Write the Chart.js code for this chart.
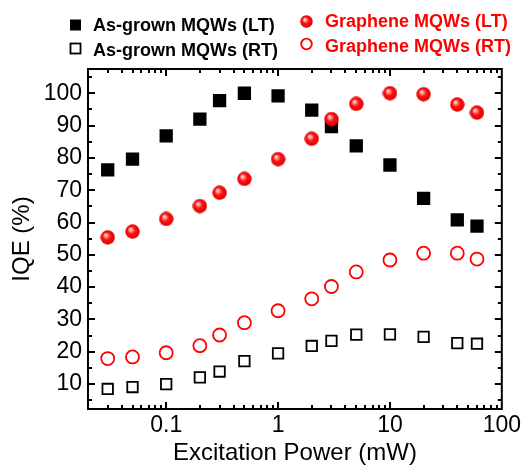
<!DOCTYPE html>
<html>
<head>
<meta charset="utf-8">
<script src="https://cdn.jsdelivr.net/npm/chart.js@4.4.0/dist/chart.umd.min.js"></script>
<style>
html,body{margin:0;padding:0;background:#fff;}
#contenedor{width:524px;height:468px;position:relative;}
</style>
</head>
<body>
<div id="contenedor"><canvas id="graficaIQE"></canvas></div>
<script>
// datos: potencia de excitacion (mW) e IQE (%) de cada muestra
const potencia = [0.03, 0.05, 0.1, 0.2, 0.3, 0.5, 1, 2, 3, 5, 10, 20, 40, 60];
const asGrownLT = [76.3, 79.6, 86.8, 92.0, 97.7, 100, 99.2, 94.8, 89.7, 83.7, 77.8, 67.5, 60.8, 58.9];
const asGrownRT = [8.5, 9.1, 10.0, 12.1, 13.9, 17.1, 19.5, 21.8, 23.4, 25.3, 25.4, 24.6, 22.7, 22.5];
const grafenoLT = [55.4, 57.2, 61.1, 65.1, 69.2, 73.5, 79.6, 85.9, 92.0, 96.7, 100, 99.7, 96.5, 94.0];
const grafenoRT = [17.9, 18.4, 19.7, 21.9, 25.2, 29.0, 32.7, 36.4, 40.2, 44.7, 48.4, 50.5, 50.5, 48.7];
const ticksX = [0.1, 1, 10, 100];
const ticksY = [10, 20, 30, 40, 50, 60, 70, 80, 90, 100];
const nombres = ['As-grown MQWs (LT)', 'As-grown MQWs (RT)', 'Graphene MQWs (LT)', 'Graphene MQWs (RT)'];

const ROJO = '#ff0000';
const fuente = '"Liberation Sans", Arial, sans-serif';

// esfera roja con brillo, se usa como pointStyle
function crearEsfera(d){
  const c = document.createElement('canvas');
  c.width = d; c.height = d;
  const g = c.getContext('2d');
  const r = d / 2;
  const grad = g.createRadialGradient(r * 0.7, r * 0.65, 0, r, r, r);
  grad.addColorStop(0, '#ffffff');
  grad.addColorStop(0.22, '#ff9a9a');
  grad.addColorStop(0.5, '#ff1010');
  grad.addColorStop(1, '#e00000');
  g.fillStyle = grad;
  g.beginPath();
  g.arc(r, r, r - 0.3, 0, Math.PI * 2);
  g.fill();
  return c;
}
const esfera = crearEsfera(15);
const esferaChica = crearEsfera(13);

const puntos = arr => potencia.map((p, i) => ({x: p, y: arr[i]}));

// marco y ticks hacia adentro en los cuatro lados
const marco = {
  id: 'marco',
  afterDraw(chart){
    const {ctx, chartArea: a, scales: {x, y}} = chart;
    ctx.save();
    ctx.strokeStyle = '#000';
    ctx.lineWidth = 2;
    ctx.strokeRect(a.left, a.top, a.right - a.left, a.bottom - a.top);
    ctx.beginPath();
    for (let e = -2; e < 2; e++){
      for (let m = 1; m < 10; m++){
        const v = m * Math.pow(10, e);
        if (v < x.min - 1e-9 || v > x.max + 1e-9) continue;
        const px = Math.round(x.getPixelForValue(v));
        const L = m === 1 ? 7 : 4;
        ctx.moveTo(px, a.bottom); ctx.lineTo(px, a.bottom - L);
        ctx.moveTo(px, a.top); ctx.lineTo(px, a.top + L);
      }
    }
    for (let v = 5; v <= y.max; v += 5){
      if (v < y.min) continue;
      const py = Math.round(y.getPixelForValue(v));
      const L = v % 10 === 0 ? 7 : 4;
      ctx.moveTo(a.left, py); ctx.lineTo(a.left + L, py);
      ctx.moveTo(a.right, py); ctx.lineTo(a.right - L, py);
    }
    ctx.stroke();
    ctx.restore();
  }
};

// leyenda en dos columnas arriba del grafico
const leyenda = {
  id: 'leyenda',
  afterDraw(chart){
    const ctx = chart.ctx;
    ctx.save();
    ctx.font = 'bold 18px ' + fuente;
    ctx.textBaseline = 'alphabetic';
    ctx.textAlign = 'left';
    // columna negra
    ctx.fillStyle = '#000';
    ctx.fillRect(70, 19.5, 11, 11);
    ctx.fillText(nombres[0], 93, 31);
    ctx.strokeStyle = '#000';
    ctx.lineWidth = 1.8;
    ctx.strokeRect(70.5, 43.5, 10, 10);
    ctx.fillText(nombres[1], 93, 56);
    // columna roja
    ctx.drawImage(esferaChica, 300, 15);
    ctx.fillStyle = ROJO;
    ctx.fillText(nombres[2], 325, 27);
    ctx.strokeStyle = ROJO;
    ctx.beginPath();
    ctx.arc(306.5, 44, 5.3, 0, Math.PI * 2);
    ctx.stroke();
    ctx.fillText(nombres[3], 325, 51.5);
    ctx.restore();
  }
};

const grafica = new Chart(document.getElementById('graficaIQE'), {
  type: 'scatter',
  data: {
    datasets: [
      {label: nombres[2], data: puntos(grafenoLT), pointStyle: esfera, pointRadius: 7.5, pointHoverRadius: 7.5},
      {label: nombres[0], data: puntos(asGrownLT), pointStyle: 'rect', pointRadius: 9.4,
        backgroundColor: '#000', borderColor: '#000', borderWidth: 0},
      {label: nombres[3], data: puntos(grafenoRT), pointStyle: 'circle', pointRadius: 6.5,
        backgroundColor: 'rgba(0,0,0,0)', borderColor: ROJO, borderWidth: 1.8},
      {label: nombres[1], data: puntos(asGrownRT), pointStyle: 'rect', pointRadius: 7.4,
        backgroundColor: 'rgba(0,0,0,0)', borderColor: '#000', borderWidth: 1.8}
    ]
  },
  options: {
    responsive: true,
    maintainAspectRatio: false,
    animation: false,
    layout: {padding: {top: 69, right: 21, left: 0, bottom: 0}},
    plugins: {legend: {display: false}, tooltip: {enabled: false}},
    scales: {
      x: {
        type: 'logarithmic',
        min: 0.02, max: 100,
        grid: {display: false, drawTicks: false},
        border: {display: false},
        afterBuildTicks: s => { s.ticks = ticksX.map(v => ({value: v})); },
        afterFit: s => { s.height = 59; },
        ticks: {
          color: '#000', padding: 3, maxRotation: 0, autoSkip: false,
          font: {family: fuente, size: 23},
          callback: v => String(v)
        },
        title: {display: true, text: 'Excitation Power (mW)', color: '#000',
          font: {family: fuente, size: 24}, padding: {top: 0, bottom: 0}}
      },
      y: {
        min: 2.3, max: 107.5,
        grid: {display: false, drawTicks: false},
        border: {display: false},
        afterBuildTicks: s => { s.ticks = ticksY.map(v => ({value: v})); },
        afterFit: s => { s.width = 88; },
        ticks: {
          color: '#000', padding: 6, autoSkip: false,
          font: {family: fuente, size: 23}
        },
        title: {display: true, text: 'IQE (%)', color: '#000',
          font: {family: fuente, size: 24}, padding: {top: 8, bottom: 0}}
      }
    }
  },
  plugins: [marco, leyenda]
});
</script>
</body>
</html>
